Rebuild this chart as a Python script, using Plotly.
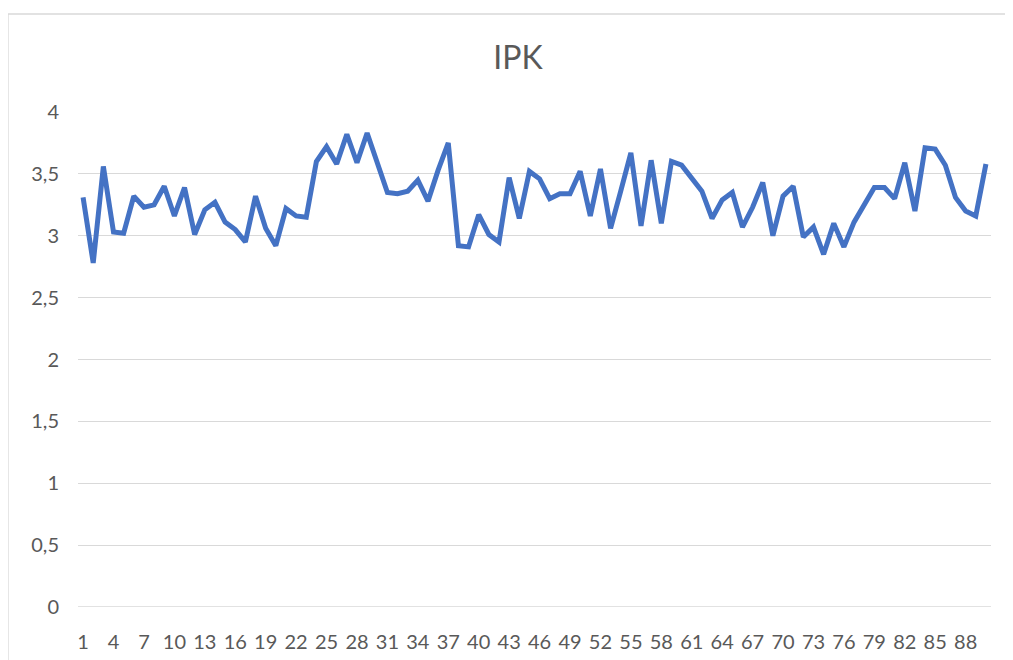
import plotly.graph_objects as go

categories = list(range(1, 91))
ipk = [
    3.31, 2.78, 3.56, 3.03, 3.02, 3.32, 3.23, 3.25, 3.40, 3.16,
    3.39, 3.01, 3.21, 3.27, 3.11, 3.05, 2.95, 3.32, 3.06, 2.92,
    3.22, 3.16, 3.15, 3.60, 3.72, 3.58, 3.82, 3.59, 3.83, 3.59,
    3.35, 3.34, 3.36, 3.45, 3.28, 3.53, 3.75, 2.92, 2.91, 3.17,
    3.01, 2.95, 3.47, 3.14, 3.52, 3.46, 3.30, 3.34, 3.34, 3.52,
    3.16, 3.54, 3.06, 3.36, 3.67, 3.08, 3.61, 3.10, 3.60, 3.57,
    3.47, 3.36, 3.14, 3.29, 3.35, 3.07, 3.23, 3.43, 3.00, 3.32,
    3.40, 2.99, 3.07, 2.85, 3.10, 2.91, 3.11, 3.26, 3.39, 3.39,
    3.30, 3.59, 3.20, 3.71, 3.70, 3.57, 3.31, 3.20, 3.16, 3.58,
]
x_tick_vals = list(range(1, 91, 3))
y_tick_vals = [0, 0.5, 1, 1.5, 2, 2.5, 3, 3.5, 4]

FONT = "Lato"
GRAY = "#595959"
GRID = "#D9D9D9"

W, H = 1005, 652
L, T, PW, PH = 70, 104, 913, 495

fig = go.Figure()
fig.add_trace(go.Scatter(
    x=categories, y=ipk, mode="lines",
    line=dict(color="#4472C4", width=5, shape="linear"),
    hoverinfo="x+y", showlegend=False,
))

fig.update_layout(
    width=W, height=H,
    margin=dict(l=L, r=W - L - PW, t=T, b=H - T - PH, autoexpand=False),
    paper_bgcolor="white", plot_bgcolor="white",
    separators=", ",
    font=dict(family=FONT, color=GRAY, size=20),
    title=dict(text="IPK", x=510 / W, xanchor="center", xref="container",
               y=1 - 50 / H, yanchor="middle", yref="container",
               font=dict(family=FONT, size=32, color=GRAY)),
    xaxis=dict(range=[0.5, 90.5], tickmode="array", tickvals=x_tick_vals,
               ticktext=[str(v) for v in x_tick_vals], tickangle=0,
               showgrid=False, zeroline=False, showline=False, ticks="",
               ticklabelstandoff=21, automargin=False, fixedrange=True),
    yaxis=dict(range=[0, 4], tickmode="array", tickvals=y_tick_vals,
               showgrid=True, gridcolor=GRID, gridwidth=1.3,
               zeroline=False, showline=False, ticks="",
               ticklabelstandoff=18, automargin=False, fixedrange=True),
    shapes=[dict(type="rect", xref="paper", yref="paper",
                 x0=(0 - L) / PW, x1=(1004 - L) / PW,
                 y0=(T + PH - 700) / PH, y1=(T + PH - 6) / PH,
                 line=dict(color=GRID, width=1.3), fillcolor="rgba(0,0,0,0)",
                 layer="below")],
)
fig.add_shape(type="line", xref="paper", yref="y", x0=0, x1=1, y0=0, y1=0,
              line=dict(color=GRID, width=1.3), layer="below")

fig.write_html("out.html")
